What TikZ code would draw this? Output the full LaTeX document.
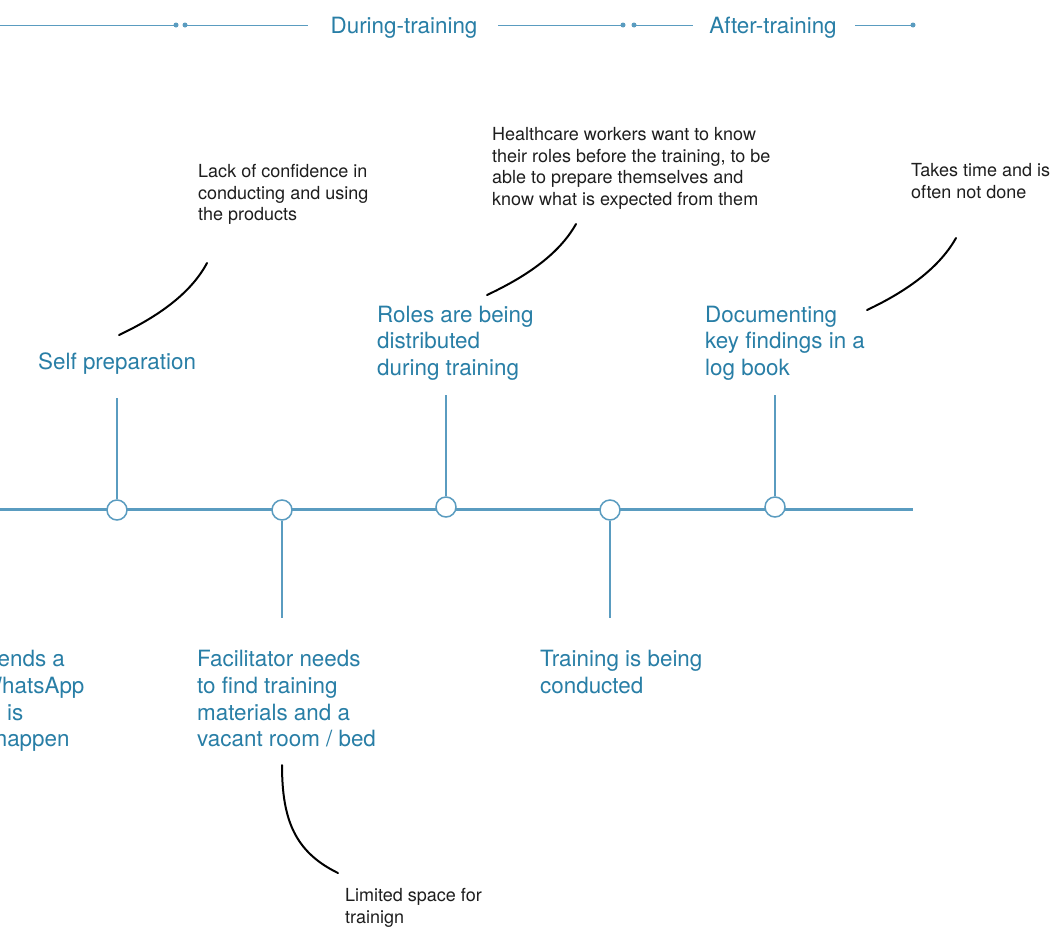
\documentclass[tikz,border=0pt]{standalone}
\usepackage{fontspec}
\setmainfont{TeX Gyre Heros}
\definecolor{tlblue}{RGB}{90,156,192}
\definecolor{txtblue}{RGB}{40,126,166}
\definecolor{notegray}{RGB}{30,30,30}
\begin{document}
\begin{tikzpicture}[x=1pt,y=-1pt,
  stage/.style={font=\fontsize{22.4}{26.8}\selectfont, text=txtblue, inner sep=0pt, align=left, anchor=north west},
  note/.style={font=\fontsize{18}{21.5}\selectfont, text=notegray, inner sep=0pt, align=left, anchor=north west},
  phase/.style={font=\fontsize{22.4}{27}\selectfont, text=txtblue, inner sep=0pt, anchor=base},
  hdot/.style={circle, fill=tlblue, inner sep=0pt, minimum size=5pt},
  milestone/.style={circle, draw=tlblue, line width=1.5pt, fill=white, minimum size=20pt, inner sep=0pt},
  stem/.style={draw=tlblue, line width=2pt},
  hdr/.style={draw=tlblue, line width=1pt},
  axis/.style={draw=tlblue, line width=3pt},
  callout/.style={draw=black, line width=2pt, line cap=round},
]
\useasboundingbox (0,0) rectangle (1051,937);
\clip (0,0) rectangle (1051,937);
\fill[white] (0,0) rectangle (1051,937);

% ---------- header ----------
\coordinate (h0) at (0,25);
\coordinate (h1) at (176,25);
\coordinate (h2) at (185,25);
\coordinate (h3) at (308,25);
\coordinate (h4) at (498,25);
\coordinate (h5) at (623,25);
\coordinate (h6) at (634,25);
\coordinate (h7) at (693,25);
\coordinate (h8) at (855,25);
\coordinate (h9) at (913,25);
\draw[hdr] (h0) -- (h1);
\draw[hdr] (h2) -- (h3);
\draw[hdr] (h4) -- (h5);
\draw[hdr] (h6) -- (h7);
\draw[hdr] (h8) -- (h9);
\node[hdot] (d1) at (h1) {};
\node[hdot] (d2) at (h2) {};
\node[hdot] (d3) at (h5) {};
\node[hdot] (d4) at (h6) {};
\node[hdot] (d5) at (h9) {};
\node[phase] (during) at (404,33) {During-training};
\node[phase] (after) at (773,33) {After-training};

% ---------- timeline ----------
\coordinate (tl0) at (0,509);
\coordinate (tl1) at (913,509);
\draw[axis] (tl0) -- (tl1);
\node[milestone] (m1) at (117,510) {};
\node[milestone] (m2) at (282,510) {};
\node[milestone] (m3) at (446,507) {};
\node[milestone] (m4) at (610,510) {};
\node[milestone] (m5) at (775,507) {};

\coordinate (s1) at (117,398);
\coordinate (s2) at (282,618);
\coordinate (s3) at (446,395);
\coordinate (s4) at (610,618);
\coordinate (s5) at (775,395);
\draw[stem] (s1) -- (m1.north);
\draw[stem] (m2.south) -- (s2);
\draw[stem] (s3) -- (m3.north);
\draw[stem] (m4.south) -- (s4);
\draw[stem] (s5) -- (m5.north);

% ---------- stage labels ----------
\node[stage] (selfprep) at (38,353) {Self preparation};
\node[stage] (roles) at (377,305.5) {Roles are being\\distributed\\during training};
\node[stage] (logbook) at (705,305.5) {Documenting\\key findings in a\\log book};
\node[stage] (whatsapp) at (-116,650) {Facilitator sends a\\notice on WhatsApp\\that training is\\planned to happen};
\node[stage] (materials) at (197,650) {Facilitator needs\\to find training\\materials and a\\vacant room / bed};
\node[stage] (conducted) at (540,650) {Training is being\\conducted};

% ---------- notes ----------
\node[note] (confidence) at (198,164.5) {Lack of confidence in\\conducting and using\\the products};
\node[note] (knowroles) at (492,127.5) {Healthcare workers want to know\\their roles before the training, to be\\able to prepare themselves and\\know what is expected from them};
\node[note] (takestime) at (911,163.5) {Takes time and is\\often not done};
\node[note] (space) at (345,888.5) {Limited space for\\trainign};

% ---------- callout curves ----------
\coordinate (c1a) at (119,335);
\coordinate (c1b) at (207,263);
\draw[callout] (c1a) .. controls (155,318) and (190,295) .. (c1b);
\coordinate (c2a) at (487,295);
\coordinate (c2b) at (576,224);
\draw[callout] (c2a) .. controls (523,278) and (558,256) .. (c2b);
\coordinate (c3a) at (867,310);
\coordinate (c3b) at (956,238);
\draw[callout] (c3a) .. controls (903,293) and (938,270) .. (c3b);
\coordinate (c4a) at (282,765);
\coordinate (c4b) at (338,873);
\draw[callout] (c4a) .. controls (282,820) and (295,852) .. (c4b);
\end{tikzpicture}
\end{document}
